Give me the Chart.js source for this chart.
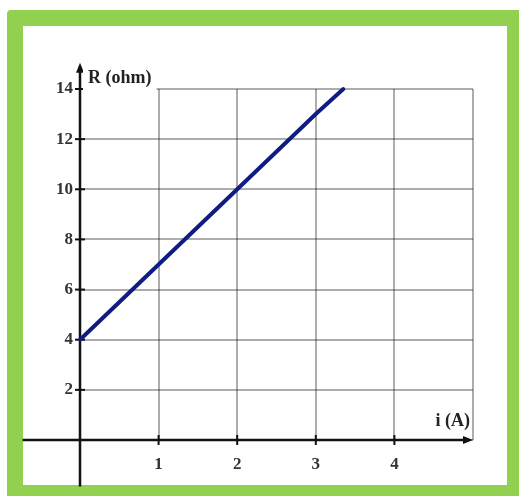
<!DOCTYPE html>
<html>
<head>
<meta charset="utf-8">
<script src="https://cdn.jsdelivr.net/npm/chart.js@4/dist/chart.umd.min.js"></script>
<style>
  body { margin: 0; background: #fff; }
  #frame {
    position: absolute; left: 7px; top: 10px; width: 484px; height: 459px;
    border: 16px solid #92d050; border-radius: 4px; background: #fff;
  }
  #chart { position: absolute; left: 0; top: 0; }
</style>
</head>
<body>
<div id="frame"></div>
<canvas id="chart" width="519" height="496"></canvas>
<script>
"use strict";

// Data: R = f(i)
const currentValues = [0, 1, 2, 3, 3.35];
const resistanceValues = [4, 7, 10, 13, 14];
const xTickLabels = [1, 2, 3, 4];
const yTickLabels = [2, 4, 6, 8, 10, 12, 14];

// Axes with arrows, ticks crossing the axis, axis titles
const axesPlugin = {
    id: 'axes',
    beforeDatasetsDraw(chart) {
        const ctx = chart.ctx;
        const xs = chart.scales.x;
        const ys = chart.scales.y;
        const x0 = xs.getPixelForValue(0);
        const y0 = ys.getPixelForValue(0);

        ctx.save();
        ctx.strokeStyle = '#111';
        ctx.fillStyle = '#111';
        ctx.lineWidth = 2.5;

        // y-axis
        const yTop = ys.getPixelForValue(15.05);
        ctx.beginPath();
        ctx.moveTo(x0, ys.getPixelForValue(-1.85));
        ctx.lineTo(x0, yTop + 4);
        ctx.stroke();
        ctx.beginPath();
        ctx.moveTo(x0, yTop);
        ctx.lineTo(x0 - 4, yTop + 10);
        ctx.lineTo(x0 + 4, yTop + 10);
        ctx.closePath();
        ctx.fill();

        // x-axis
        const xRight = xs.getPixelForValue(5);
        ctx.beginPath();
        ctx.moveTo(xs.getPixelForValue(-0.73), y0);
        ctx.lineTo(xRight - 4, y0);
        ctx.stroke();
        ctx.beginPath();
        ctx.moveTo(xRight, y0);
        ctx.lineTo(xRight - 10, y0 - 4);
        ctx.lineTo(xRight - 10, y0 + 4);
        ctx.closePath();
        ctx.fill();

        // tick marks
        ctx.lineWidth = 2;
        xTickLabels.forEach((v) => {
            const px = xs.getPixelForValue(v);
            ctx.beginPath();
            ctx.moveTo(px, y0 - 5);
            ctx.lineTo(px, y0 + 5);
            ctx.stroke();
        });
        yTickLabels.forEach((v) => {
            const py = ys.getPixelForValue(v);
            ctx.beginPath();
            ctx.moveTo(x0 - 5, py);
            ctx.lineTo(x0 + 5, py);
            ctx.stroke();
        });
        ctx.restore();
    },
    afterDraw(chart) {
        const ctx = chart.ctx;
        const xs = chart.scales.x;
        const ys = chart.scales.y;
        const x0 = xs.getPixelForValue(0);
        const yTop = ys.getPixelForValue(14);

        ctx.save();
        ctx.font = "bold 18px 'Liberation Serif', 'DejaVu Serif', serif";
        // "R (ohm)" on white background, hides part of the top grid line
        const w = ctx.measureText('R (ohm)').width;
        ctx.fillStyle = '#fff';
        ctx.fillRect(x0 + 3, yTop - 20, w + 10, 22);
        ctx.fillStyle = '#222';
        ctx.textBaseline = 'middle';
        ctx.textAlign = 'left';
        ctx.fillText('R (ohm)', x0 + 8, yTop - 11);

        // "i (A)"
        ctx.textAlign = 'right';
        ctx.fillText('i (A)', xs.getPixelForValue(5) - 3, ys.getPixelForValue(0) - 19);
        ctx.restore();
    }
};

const ctx = document.getElementById('chart');

new Chart(ctx, {
    type: 'scatter',
    data: {
        datasets: [{
            data: currentValues.map((v, i) => ({ x: v, y: resistanceValues[i] })),
            showLine: true,
            borderColor: '#0f1d83',
            borderWidth: 4,
            borderCapStyle: 'round',
            pointRadius: 0,
            clip: false
        }]
    },
    options: {
        responsive: false,
        animation: false,
        layout: {
            padding: { left: 0, right: 46, top: 89, bottom: 0 }
        },
        plugins: {
            legend: { display: false },
            tooltip: { enabled: false }
        },
        scales: {
            x: {
                type: 'linear',
                min: 0,
                max: 5,
                afterFit: (s) => { s.height = 56; },
                border: { display: false },
                grid: { color: 'rgba(0,0,0,0.32)', lineWidth: 2, drawTicks: false },
                ticks: {
                    stepSize: 1,
                    padding: 14,
                    color: '#333',
                    font: { family: "'Liberation Serif', serif", size: 17, weight: 'bold' },
                    callback: (v) => xTickLabels.includes(v) ? v : ''
                }
            },
            y: {
                min: 0,
                max: 14,
                afterFit: (s) => { s.width = 80; },
                border: { display: false },
                grid: { color: 'rgba(0,0,0,0.32)', lineWidth: 2, drawTicks: false },
                ticks: {
                    stepSize: 2,
                    padding: 7,
                    color: '#333',
                    font: { family: "'Liberation Serif', serif", size: 17, weight: 'bold' },
                    callback: (v) => yTickLabels.includes(v) ? v : ''
                }
            }
        }
    },
    plugins: [axesPlugin]
});
</script>
</body>
</html>
